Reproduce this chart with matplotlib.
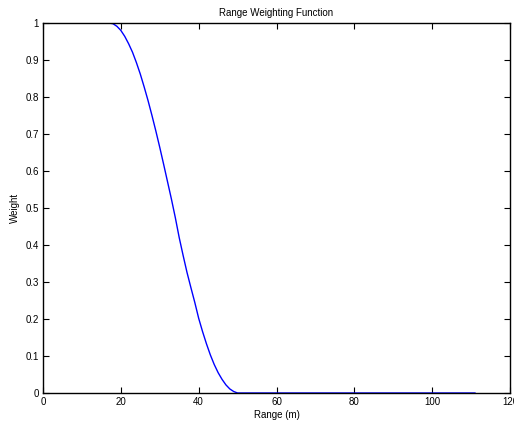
import matplotlib
matplotlib.use('Agg')
import matplotlib.pyplot as plt
import numpy as np

# range (m) and weight
range_m = [0, 5, 10, 15, 17, 18, 19, 20, 21, 22, 23, 24, 25, 26, 27, 28, 29, 30,
           31, 32, 33, 34, 35, 36, 37, 38, 39, 40, 41, 42, 43, 44, 45, 46, 47,
           48, 49, 50, 51, 60, 80, 100, 111]
weight = [1, 1, 1, 1, 1, 0.998, 0.991, 0.980, 0.964, 0.944, 0.921, 0.893, 0.862,
          0.827, 0.790, 0.750, 0.708, 0.664, 0.618, 0.571, 0.524, 0.474, 0.420,
          0.372, 0.326, 0.285, 0.245, 0.202, 0.166, 0.133, 0.103, 0.077, 0.055,
          0.037, 0.022, 0.011, 0.004, 0.0, 0.0, 0.0, 0.0, 0.0, 0.0]

x_ticks = [0, 20, 40, 60, 80, 100, 120]
y_ticks = [0, 0.1, 0.2, 0.3, 0.4, 0.5, 0.6, 0.7, 0.8, 0.9, 1]
y_labels = ['0', '0.1', '0.2', '0.3', '0.4', '0.5', '0.6', '0.7', '0.8', '0.9', '1']

plt.rcParams['font.family'] = ['Liberation Sans', 'DejaVu Sans']

fig = plt.figure(figsize=(5.14, 4.21), dpi=100)
ax = fig.add_axes([43 / 514, 28 / 421, 467 / 514, 370 / 421])
ax.plot(range_m, weight, color=(0, 0, 1), lw=1.0)
ax.set_xlim(0, 120)
ax.set_ylim(0, 1)
ax.set_xticks(x_ticks)
ax.set_xticklabels([str(t) for t in x_ticks])
ax.set_yticks(y_ticks)
ax.set_yticklabels(y_labels)
ax.tick_params(direction='in', length=4, width=0.8, labelsize=7,
               top=True, right=True, pad=3)
for s in ax.spines.values():
    s.set_linewidth(1.0)
ax.set_title('Range Weighting Function', fontsize=7, pad=5)
ax.set_xlabel('Range (m)', fontsize=7, labelpad=2)
ax.set_ylabel('Weight', fontsize=7, labelpad=4)

fig.savefig('out.png', dpi=100)
